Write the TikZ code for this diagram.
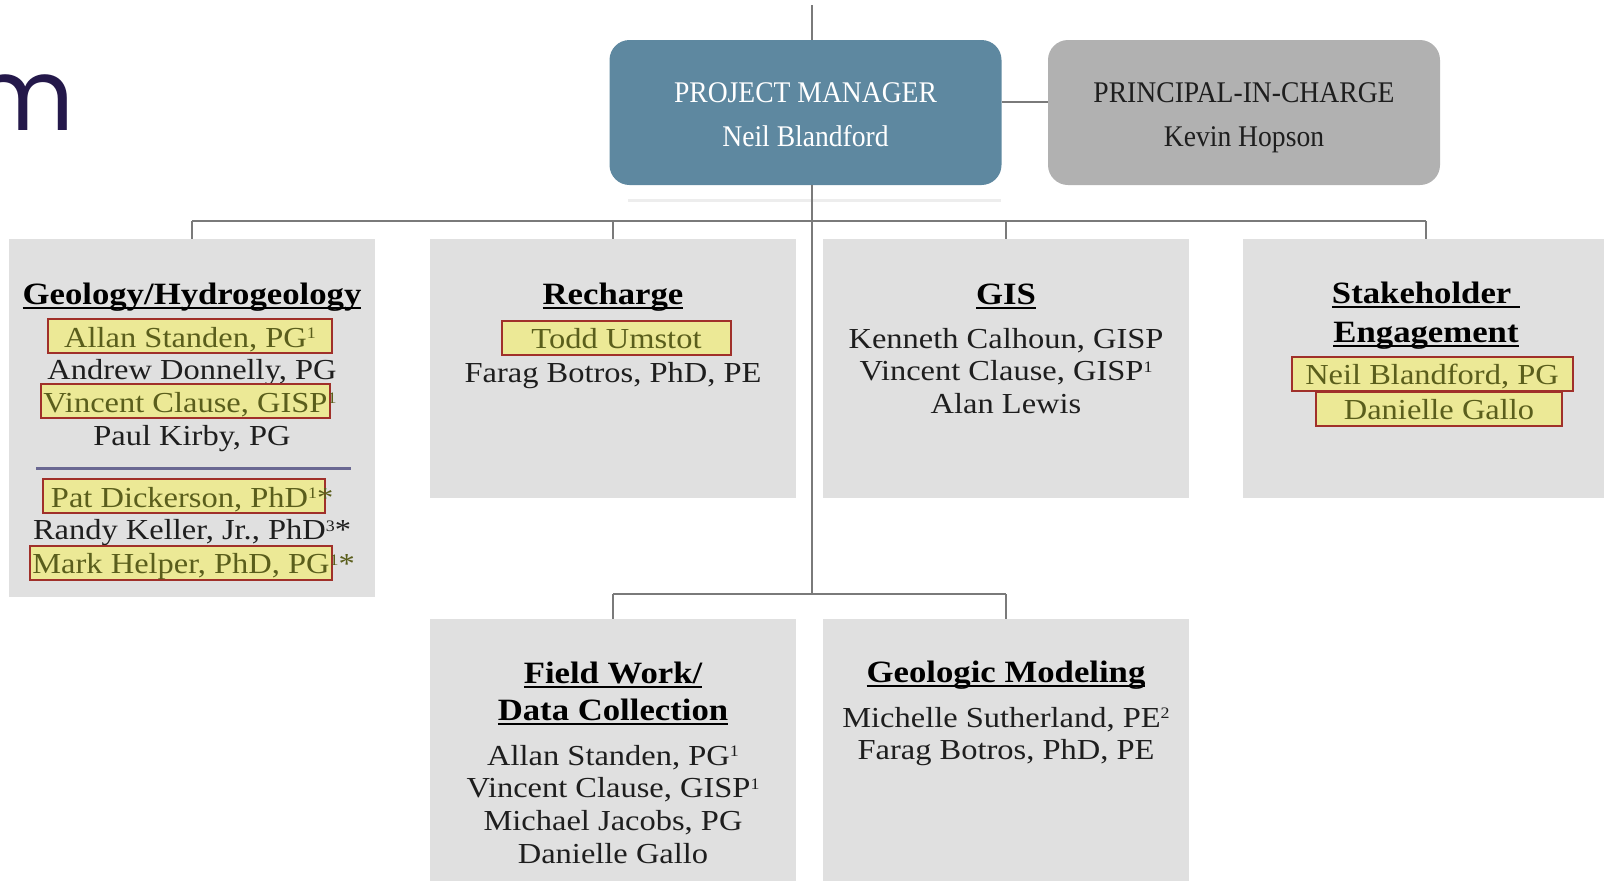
\documentclass[tikz,border=0pt]{standalone}
\usepackage{fontspec}
\setmainfont{Liberation Serif}[FakeStretch=1.12]
\newfontfamily\headfont{Liberation Serif}[FakeStretch=0.92]
\newfontfamily\logofont{Poppins}
\usetikzlibrary{positioning}

\definecolor{boxgray}{RGB}{224,224,224}
\definecolor{pmblue}{RGB}{94,136,160}
\definecolor{picgray}{RGB}{177,177,177}
\definecolor{linegray}{RGB}{122,122,122}
\definecolor{ink}{RGB}{30,30,30}
\definecolor{hlfill}{RGB}{236,233,150}
\definecolor{hlred}{RGB}{160,48,42}
\definecolor{hltext}{RGB}{90,94,28}
\definecolor{sepblue}{RGB}{106,104,146}
\definecolor{navy}{RGB}{36,24,74}

% underlined team heading
\newsavebox\headbox
\newcommand{\heading}[1]{\sbox\headbox{#1}\rlap{\rule[-2.3pt]{\wd\headbox}{0.9pt}}\usebox\headbox}
% small footnote figure after a name
\newcommand{\fnote}[1]{\raisebox{4.3pt}{\fontsize{8}{8}\selectfont #1}}
% keeps both lines of a lead box at the same place
\newcommand{\leadstrut}{\rule[-3.5pt]{0pt}{18.5pt}}

\tikzset{
    node distance=16.35pt, % baseline to baseline of the name lines
    link/.style={draw=linegray, line width=1.1pt}, % org chart connectors
    deptbox/.style={fill=boxgray, inner sep=0pt, minimum width=183pt}, % team panels
    leadbox/.style={rounded corners=10pt, inner sep=0pt, minimum width=196pt, minimum height=72.5pt,
        align=center, font=\headfont\fontsize{15}{22}\selectfont},
    person/.style={inner xsep=1pt, inner ysep=0.5pt, text height=13.5pt, text depth=2.5pt,
        text=ink, font=\fontsize{14.5}{16}\selectfont},
    depttitle/.style={person, text=black, font=\fontsize{15.5}{18}\selectfont\bfseries},
    marked/.style={person, fill=hlfill, draw=hlred, line width=1pt, text=hltext}, % highlighted names
    sepline/.style={draw=sepblue, line width=1.5pt},
    logo/.style={anchor=base east, inner sep=0pt, text=navy, font=\logofont\fontsize{50}{50}\selectfont},
}

\begin{document}
\begin{tikzpicture}[x=0.5pt, y=-0.5pt]
\useasboundingbox (0,0) rectangle (1604,880);
\clip (0,0) rectangle (1604,880);

\node[logo] (logo) at (75,130) {m};

% leads
\node[leadbox, fill=pmblue, text=white] (pm)  at (805.5,112.5) {\leadstrut PROJECT MANAGER\\\leadstrut Neil Blandford};
\node[leadbox, fill=picgray, text=ink]  (pic) at (1244,112.5)  {\leadstrut PRINCIPAL-IN-CHARGE\\\leadstrut Kevin Hopson};
\draw[draw=black!7, line width=1.5pt] (628,200) -- (1001,200);

% team panels
\node[deptbox, minimum height=179pt]   (geo)   at (192,418)    {};
\node[deptbox, minimum height=129.5pt] (rech)  at (613,368.5)  {};
\node[deptbox, minimum height=129.5pt] (gis)   at (1006,368.5) {};
\node[deptbox, minimum height=129.5pt] (stake) at (1426,368.5) {};
\node[deptbox, minimum height=140.5pt] (field) at (613,759.5)  {};
\node[deptbox, minimum height=140.5pt] (model) at (1006,759.5) {};

\coordinate (top)    at (812,5);
\coordinate (pmlink) at (0,102);
\coordinate (bus)    at (0,221);
\coordinate (lowbus) at (0,594);

\draw[link] (top) -- (top |- pm.north);
\draw[link] (pm.east |- pmlink) -- (pic.west |- pmlink);
\draw[link] (top |- pm.south) -- (top |- lowbus);
\draw[link] (geo.north |- bus) -- (stake.north |- bus);
\foreach \d in {geo,rech,gis,stake}
    \draw[link] (\d.north |- bus) -- (\d.north);
\draw[link] (field.north |- lowbus) -- (model.north |- lowbus);
\foreach \d in {field,model}
    \draw[link] (\d.north |- lowbus) -- (\d.north);

% Geology/Hydrogeology
\node[depttitle] (gt) at (192,293) {\heading{Geology/Hydrogeology}};
\node[marked, node distance=21.5pt, below of=gt, minimum width=142pt, xshift=-1pt] (g1) {Allan Standen, PG\fnote{1}};
\node[person, below of=g1, xshift=1pt] (g2) {Andrew Donnelly, PG};
\node[marked, below of=g2, xshift=-3.25pt] (g3) {Vincent Clause, GISP\rlap{\fnote{1}}};
\node[person, below of=g3, xshift=3.25pt] (g4) {Paul Kirby, PG};
\draw[sepline] (36,468) -- (351,468);
\node[marked, node distance=31pt, below of=g4, minimum width=141pt, xshift=-4pt] (g5) {Pat Dickerson, PhD\fnote{1}\rlap{*}};
\node[person, below of=g5, xshift=4pt] (g6) {Randy Keller, Jr., PhD\fnote{3}*};
\node[marked, node distance=17pt, below of=g6, xshift=-5.5pt] (g7) {Mark Helper, PhD, PG\rlap{\fnote{1}*}};

% Recharge
\node[depttitle] (rt) at (613,293) {\heading{Recharge}};
\node[marked, node distance=22.25pt, below of=rt, minimum width=114.5pt, xshift=1.75pt] (r1) {Todd Umstot};
\node[person, node distance=16.75pt, below of=r1, xshift=-1.75pt] (r2) {Farag Botros, PhD, PE};

% GIS
\node[depttitle] (it) at (1006,293) {\heading{GIS}};
\node[person, node distance=22pt, below of=it] (i1) {Kenneth Calhoun, GISP};
\node[person, below of=i1] (i2) {Vincent Clause, GISP\fnote{1}};
\node[person, below of=i2] (i3) {Alan Lewis};

% Stakeholder Engagement
\node[depttitle] (kt) at (1426,292) {\heading{Stakeholder\ }};
\node[depttitle, node distance=19.5pt, below of=kt] (kt2) {\heading{Engagement}};
\node[marked, node distance=21.25pt, below of=kt2, minimum width=140.5pt, xshift=3pt] (k1) {Neil Blandford, PG};
\node[marked, node distance=17.5pt, below of=k1, minimum width=123pt, xshift=3.5pt] (k2) {Danielle Gallo};

% Field Work/Data Collection
\node[depttitle] (ft) at (613,672) {\heading{Field Work/}};
\node[depttitle, node distance=18.5pt, below of=ft] (ft2) {\heading{Data Collection}};
\node[person, node distance=22.5pt, below of=ft2] (f1) {Allan Standen, PG\fnote{1}};
\node[person, below of=f1] (f2) {Vincent Clause, GISP\fnote{1}};
\node[person, below of=f2] (f3) {Michael Jacobs, PG};
\node[person, below of=f3] (f4) {Danielle Gallo};

% Geologic Modeling
\node[depttitle] (mt) at (1006,671) {\heading{Geologic Modeling}};
\node[person, node distance=22.5pt, below of=mt] (m1) {Michelle Sutherland, PE\fnote{2}};
\node[person, below of=m1] (m2) {Farag Botros, PhD, PE};
\end{tikzpicture}
\end{document}
